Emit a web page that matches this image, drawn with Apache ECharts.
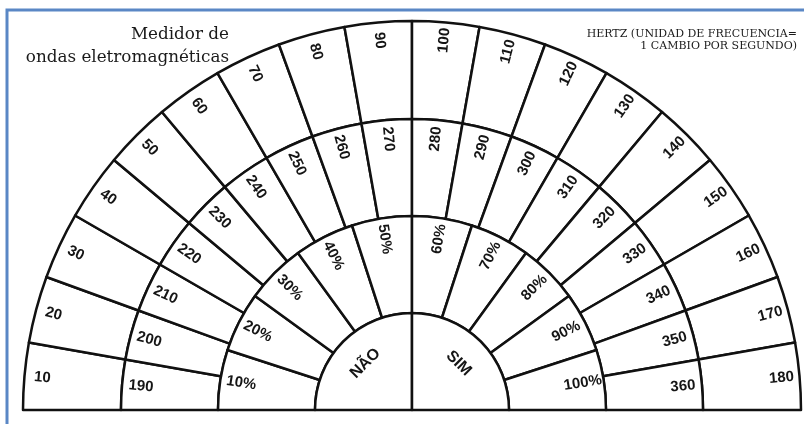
<!DOCTYPE html>
<html>
<head>
<meta charset="utf-8">
<script src="https://cdn.jsdelivr.net/npm/echarts@6/dist/echarts.min.js"></script>
<style>
  html, body { margin: 0; padding: 0; background: #fff; }
  #chart { width: 804px; height: 424px; }
</style>
</head>
<body>
<div id="chart"></div>
<script>
// anel externo (Hz 10-180), anel do meio (190-360), porcentagens e centro
var outerLabels = ['10', '20', '30', '40', '50', '60', '70', '80', '90', '100', '110', '120', '130', '140', '150', '160', '170', '180'];
var outerValues = [1, 1, 1, 1, 1, 1, 1, 1, 1, 1, 1, 1, 1, 1, 1, 1, 1, 1];
var middleLabels = ['190', '200', '210', '220', '230', '240', '250', '260', '270', '280', '290', '300', '310', '320', '330', '340', '350', '360'];
var middleValues = [1, 1, 1, 1, 1, 1, 1, 1, 1, 1, 1, 1, 1, 1, 1, 1, 1, 1];
var percentLabels = ['10%', '20%', '30%', '40%', '50%', '60%', '70%', '80%', '90%', '100%'];
var percentValues = [1, 1, 1, 1, 1, 1, 1, 1, 1, 1];
var centerLabels = ['NÃO', 'SIM'];
var centerValues = [1, 1];

var myChart = echarts.init(document.getElementById('chart'));

function toData(labels, values) {
    return labels.map(function (n, i) { return { name: n, value: values[i] }; });
}

// anel desenhado (fundo branco, borda preta)
function ring(labels, values, radius) {
    return {
        type: 'pie',
        center: [412, 410],
        radius: radius,
        startAngle: 180,
        endAngle: 0,
        clockwise: true,
        silent: true,
        avoidLabelOverlap: false,
        label: { show: false },
        labelLine: { show: false },
        emphasis: { disabled: true },
        itemStyle: { color: '#fff', borderColor: '#111', borderWidth: 2.5 },
        data: toData(labels, values)
    };
}

// anel invisivel so para posicionar os textos
function labels(labels, values, radius, rotate, size) {
    return {
        type: 'pie',
        center: [412, 410],
        radius: radius,
        startAngle: 180,
        endAngle: 0,
        clockwise: true,
        silent: true,
        z: 5,
        avoidLabelOverlap: false,
        label: {
            show: true,
            position: 'inside',
            rotate: rotate,
            formatter: '{b}',
            fontFamily: 'Liberation Sans',
            fontWeight: 'bold',
            fontSize: size,
            color: '#151515'
        },
        labelLine: { show: false },
        emphasis: { disabled: true },
        itemStyle: { color: 'rgba(0,0,0,0)', borderWidth: 0 },
        data: toData(labels, values)
    };
}

var option = {
    backgroundColor: '#fff',
    animation: false,
    graphic: [
        {
            type: 'rect',
            shape: { x: 7, y: 10, width: 800, height: 430 },
            style: { fill: 'none', stroke: '#5a87c5', lineWidth: 3 },
            z: 100
        },
        {
            type: 'text',
            x: 229, y: 23,
            style: {
                text: 'Medidor de\nondas eletromagnéticas',
                align: 'right', verticalAlign: 'top',
                fontFamily: 'DejaVu Serif', fontSize: 16.8, lineHeight: 23,
                fill: '#1a1a1a'
            },
            z: 100
        },
        {
            type: 'text',
            x: 797, y: 28,
            style: {
                text: 'HERTZ (UNIDAD DE FRECUENCIA=\n1 CAMBIO POR SEGUNDO)',
                align: 'right', verticalAlign: 'top',
                fontFamily: 'DejaVu Serif', fontSize: 11, lineHeight: 12,
                fill: '#1a1a1a'
            },
            z: 100
        }
    ],
    series: [
        ring(outerLabels, outerValues, [291, 389]),
        ring(middleLabels, middleValues, [194, 291]),
        ring(percentLabels, percentValues, [97, 194]),
        ring(centerLabels, centerValues, [0, 97]),
        labels(outerLabels, outerValues, [347, 389], 'radial', 15),
        labels(middleLabels, middleValues, [248, 290], 'radial', 15),
        labels(percentLabels, percentValues, [150, 190], 'radial', 15),
        labels(centerLabels, centerValues, [30, 96], 'tangential', 16)
    ]
};
myChart.setOption(option);
</script>
</body>
</html>
